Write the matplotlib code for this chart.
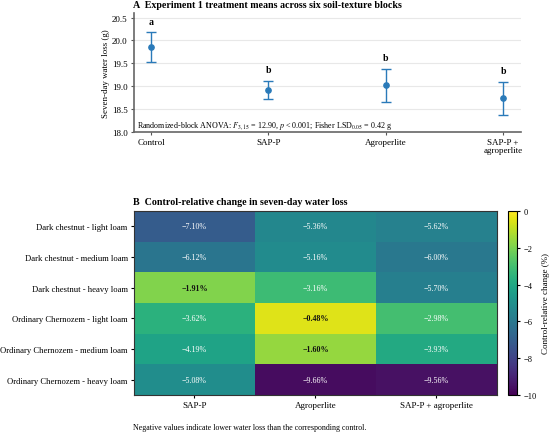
import numpy as np
import matplotlib
matplotlib.use('Agg')
import matplotlib.pyplot as plt

plt.rcParams['font.family'] = ['Liberation Serif', 'DejaVu Serif']
plt.rcParams['mathtext.fontset'] = 'stix'

# panel A data
treatments = ['Control', 'SAP-P', 'Agroperlite', 'SAP-P +\nagroperlite']
means = [19.86, 18.92, 19.02, 18.74]
errors = [0.32, 0.20, 0.36, 0.36]
letters = ['a', 'b', 'b', 'b']

# panel B data
blocks = ['Dark chestnut - light loam', 'Dark chestnut - medium loam',
          'Dark chestnut - heavy loam', 'Ordinary Chernozem - light loam',
          'Ordinary Chernozem - medium loam', 'Ordinary Chernozem - heavy loam']
amendments = ['SAP-P', 'Agroperlite', 'SAP-P + agroperlite']
sap_p = [-7.10, -6.12, -1.91, -3.62, -4.19, -5.08]
agroperlite = [-5.36, -5.16, -3.16, -0.48, -1.60, -9.66]
combo = [-5.62, -6.00, -5.70, -2.98, -3.93, -9.56]


def main():
    fig = plt.figure(figsize=(5.5, 4.35), dpi=100)

    # --- A ---
    ax = fig.add_axes([0.2436, 0.694, 0.7034, 0.274])
    x = np.arange(len(treatments))
    color = '#2a7ab9'
    ax.errorbar(x, means, yerr=errors, fmt='o', color=color, ms=3.8,
                capsize=3.6, elinewidth=1.0, capthick=1.0, zorder=3)
    for xi, m, e, l in zip(x, means, errors, letters):
        ax.annotate(l, (xi, m + e), xytext=(0, 8), textcoords='offset points',
                    ha='center', va='center', fontsize=7, fontweight='bold')
    ax.set_xlim(-0.145, 3.15)
    ax.set_ylim(18.0, 20.6)
    ax.set_yticks([18.0, 18.5, 19.0, 19.5, 20.0, 20.5])
    ax.set_xticks(x)
    ax.set_xticklabels(treatments, fontsize=6.5, linespacing=1.0)
    ax.tick_params(axis='y', labelsize=6.5, length=2.5, color='#555555', pad=2)
    ax.tick_params(axis='x', length=2.5, color='#555555', pad=2)
    ax.grid(axis='y', color='#e8e8e8', lw=0.8)
    ax.set_axisbelow(True)
    for s in ['top', 'right']:
        ax.spines[s].set_visible(False)
    for s in ['left', 'bottom']:
        ax.spines[s].set_color('#666666')
        ax.spines[s].set_linewidth(1.2)
    ax.set_ylabel('Seven-day water loss (g)', fontsize=6.4, labelpad=1.5)
    ax.text(0.008, 0.012,
            r'Randomized-block ANOVA: $F_{3,15}$ = 12.90, $p$ < 0.001; Fisher LSD$_{0.05}$ = 0.42 g',
            transform=ax.transAxes, fontsize=5.8, ha='left', va='bottom')
    ax.set_title('A  Experiment 1 treatment means across six soil-texture blocks',
                 loc='left', fontsize=7.2, fontweight='bold', pad=4, x=-0.002)

    # --- B ---
    hx = fig.add_axes([0.2436, 0.0897, 0.66, 0.4229])
    cax = fig.add_axes([0.9236, 0.0897, 0.0164, 0.4229])
    data = np.column_stack([sap_p, agroperlite, combo])
    im = hx.imshow(data, cmap='viridis', vmin=-10, vmax=0, aspect='auto')
    for i in range(data.shape[0]):
        for j in range(data.shape[1]):
            v = data[i, j]
            dark = v > -2.5
            hx.text(j, i, '\u2212%.2f%%' % abs(v), ha='center', va='center',
                    fontsize=5.8, color='#111111' if dark else 'white',
                    fontweight='bold' if dark else 'normal')
    hx.set_xticks(range(len(amendments)))
    hx.set_xticklabels(amendments, fontsize=6.5)
    hx.set_yticks(range(len(blocks)))
    hx.set_yticklabels(blocks, fontsize=6.2)
    hx.tick_params(length=2.5, pad=2)
    for s in hx.spines.values():
        s.set_color('#333333')
    hx.set_title('B  Control-relative change in seven-day water loss',
                 loc='left', fontsize=7.2, fontweight='bold', pad=5, x=-0.002)
    cb = fig.colorbar(im, cax=cax)
    cb.set_ticks([0, -2, -4, -6, -8, -10])
    cb.ax.tick_params(labelsize=6, length=2.5, pad=2)
    cb.set_label('Control-relative change (%)', fontsize=6.5, labelpad=4)

    fig.text(0.2418, 0.006, 'Negative values indicate lower water loss than the corresponding control.',
             fontsize=5.7, ha='left', va='bottom')

    fig.savefig('out.png', dpi=100)


if __name__ == '__main__':
    main()
